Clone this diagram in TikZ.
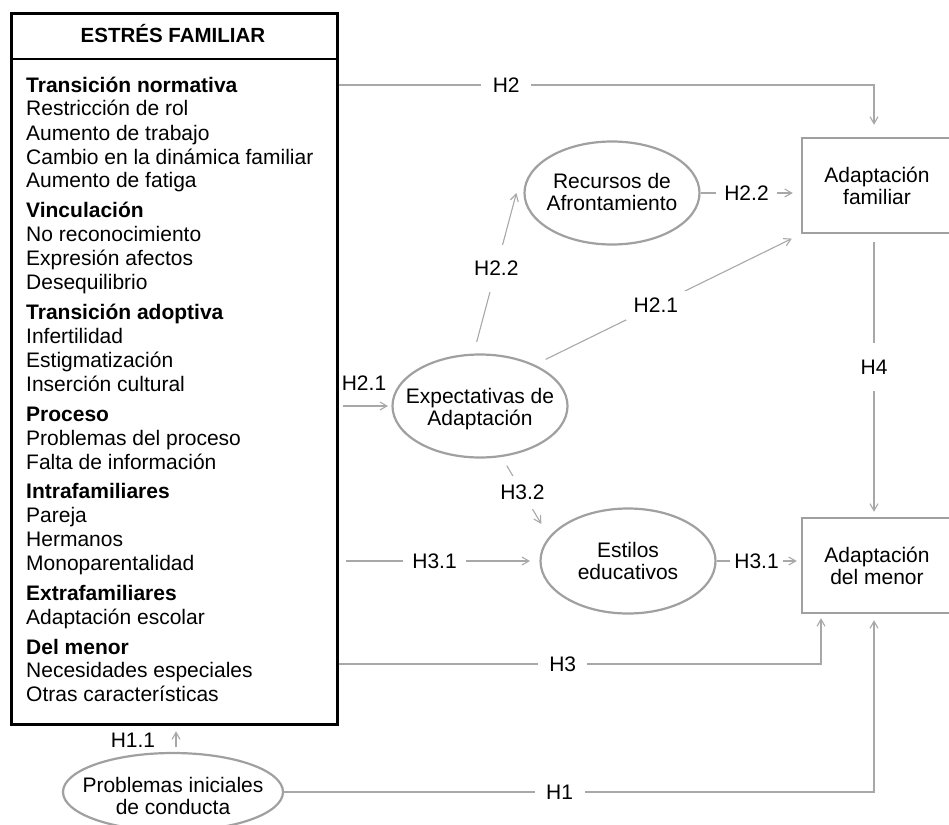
\documentclass[tikz,border=0pt]{standalone}
\usepackage{fontspec}
\setmainfont{Liberation Sans}
\usetikzlibrary{arrows.meta,shapes.geometric}

\definecolor{linegray}{RGB}{168,168,168}
\definecolor{shapegray}{RGB}{160,160,160}

\begin{document}
\begin{tikzpicture}[x=1pt,y=-1pt,
  every node/.style={font=\fontsize{21}{22}\selectfont, inner sep=0pt},
  conn/.style={draw=linegray, line width=1.1pt, -{Straight Barb[length=7pt,width=8pt]}},
  oval/.style={ellipse, draw=shapegray, line width=2.2pt, minimum width=175pt, minimum height=103pt},
  outbox/.style={rectangle, draw=shapegray, line width=2.4pt, minimum width=150pt, minimum height=95pt, align=center},
  lbl/.style={fill=white, inner xsep=8pt, inner ysep=7pt},
  listline/.style={anchor=base west},
  listhead/.style={anchor=base west, font=\fontsize{21}{22}\selectfont\bfseries},
]
\useasboundingbox (0,0) rectangle (949,824);

% ---- stress box with its header ----
\node[draw=black, line width=2.6pt, minimum width=326pt, minimum height=711pt,
      anchor=north west] (stress) at (10,12) {};
\node[anchor=base, font=\fontsize{20.5}{22}\selectfont\bfseries] (hdr) at (173,43) {ESTRÉS FAMILIAR};
\coordinate (sepy) at (0,59);
\draw[line width=2.2pt] (stress.west |- sepy) -- (stress.east |- sepy);

\foreach \t/\y [count=\i] in {Transición normativa/93, Vinculación/217, Transición adoptiva/319,
    Proceso/421, Intrafamiliares/498, Extrafamiliares/600, Del menor/654}
  \node[listhead] (head\i) at (26,\y) {\t};

\foreach \t/\y [count=\i] in {Restricción de rol/116, Aumento de trabajo/140,
    Cambio en la dinámica familiar/164, Aumento de fatiga/187,
    No reconocimiento/241, Expresión afectos/265, Desequilibrio/289,
    Infertilidad/343, Estigmatización/367, Inserción cultural/391,
    Problemas del proceso/445, Falta de información/469,
    Pareja/522, Hermanos/546, Monoparentalidad/570,
    Adaptación escolar/624,
    Necesidades especiales/677, Otras características/701}
  \node[listline] (item\i) at (26,\y) {\t};

% ---- ellipses ----
\node[oval] (recursos) at (612,193) {};
\node[align=center] (trec) at ([yshift=1pt]recursos.center) {Recursos de\\Afrontamiento};
\node[oval] (expect) at (480,406) {};
\node[align=center] (texp) at ([yshift=-3pt]expect.center) {Expectativas de\\Adaptación};
\node[oval, minimum height=105pt] (estilos) at (628,561) {};
\node[align=center] (test) at (estilos.center) {Estilos\\educativos};
\node[oval, minimum width=220pt, minimum height=78pt] (probl) at (173,792) {};
\node[align=center] (tpro) at ([yshift=-4pt]probl.center) {Problemas iniciales\\de conducta};

% ---- outcome boxes (right side runs past the page edge) ----
\node[outbox] (famad) at (877,185.5) {Adaptación\\familiar};
\node[outbox] (menor) at (877,565.5) {Adaptación\\del menor};
\coordinate (xV) at (874,0);

% ---- connectors ----
\coordinate (yH2) at (0,85);
\draw[conn, shorten >=12pt] (stress.east |- yH2)
  -- node[lbl, inner xsep=11.5pt, pos=0.313] (lH2) {H2} (xV |- yH2)
  -- (xV |- famad.north);

\draw[conn, shorten >=8pt] (recursos.east)
  -- node[lbl, pos=0.458] (lH22b) {H2.2} (recursos.east -| famad.west);

\draw[conn, shorten <=12pt, shorten >=10pt] (expect.37)
  -- node[lbl, pos=0.455] (lH21b) {H2.1} (famad.south west);

\draw[conn, shorten <=12pt] (expect.97)
  -- node[lbl, inner xsep=4pt, inner ysep=16pt, pos=0.53] (lH22a) {H2.2} ([xshift=-7pt]recursos.west);

\draw[conn, shorten <=4pt, shorten >=3.4pt] (stress.east |- expect.west) -- (expect.west);
\node (lH21a) at (364,383) {H2.1};

\draw[conn, shorten <=10pt, shorten >=15pt] (expect.-67)
  -- node[lbl, inner xsep=4pt, inner ysep=9pt, pos=0.44] (lH32) {H3.2} (estilos.163);

\draw[conn, shorten <=7.7pt, shorten >=9.4pt] (stress.east |- estilos.west)
  -- node[lbl, inner xsep=9.5pt, pos=0.478] (lH31a) {H3.1} (estilos.west);

\draw[conn, shorten >=4pt] (estilos.east)
  -- node[lbl, inner xsep=4pt, pos=0.474] (lH31b) {H3.1} (estilos.east -| menor.west);

\coordinate (yH3) at (0,664);
\coordinate (xH3) at (821,0);
\draw[conn, shorten >=4pt] (stress.east |- yH3)
  -- node[lbl, inner xsep=11pt, pos=0.4645] (lH3) {H3} (xH3 |- yH3)
  -- (xH3 |- menor.south);

\draw[conn, shorten >=6pt] (probl.east)
  -- node[lbl, inner xsep=11.5pt, pos=0.467] (lH1) {H1} (xV |- probl.east)
  -- (xV |- menor.south);

\draw[conn, shorten <=7.6pt, shorten >=5pt] (xV |- famad.south)
  -- node[lbl, inner xsep=6pt, inner ysep=17pt, pos=0.47] (lH4) {H4} (xV |- menor.north);

\coordinate (h11) at ([xshift=3pt]probl.north);
\draw[conn, shorten <=5pt, shorten >=5.7pt] (h11) -- (h11 |- stress.south);
\node (lH11) at (133,740) {H1.1};

\end{tikzpicture}
\end{document}
